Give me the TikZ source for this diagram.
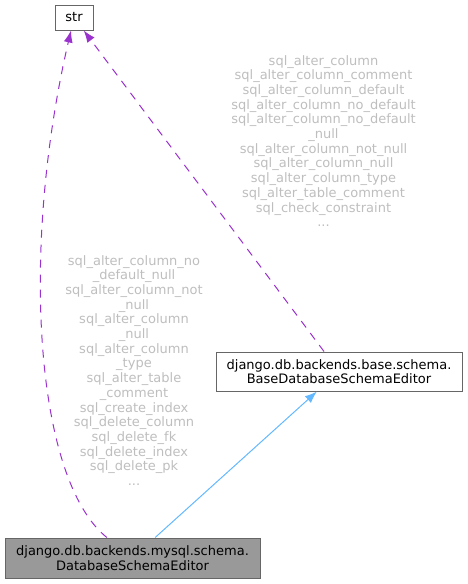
\documentclass[tikz,border=0pt]{standalone}
\usepackage{fontspec}
\setmainfont{DejaVu Sans}
\usetikzlibrary{arrows.meta,positioning,calc}
\definecolor{dxUse}{HTML}{9A32CD}
\definecolor{dxInh}{HTML}{63B8FF}
\definecolor{dxBox}{HTML}{666666}
\definecolor{dxFill}{HTML}{999999}
\definecolor{dxLbl}{HTML}{BEBEBE}

\begin{document}
\begin{tikzpicture}[x=1pt, y=-1pt,
  every node/.style={font=\fontsize{13}{14.7}\selectfont},
  cls/.style={draw=dxBox, line width=1pt, inner sep=0pt, align=center},
  use/.style={dxUse, line width=1pt, dash pattern=on 8pt off 7pt, -{Latex[length=12pt,width=9pt]}},
  inh/.style={dxInh, line width=1pt, -{Latex[length=12pt,width=9pt]}},
  lbl/.style={text=dxLbl, inner sep=0pt, align=center, anchor=north}]
  \useasboundingbox (0,0) rectangle (467,584);
  % classes
  \node[cls, minimum width=38, minimum height=25] (str) at (74,17.5) {str};
  \node[cls, minimum width=246, minimum height=39] (base) at (339,371.5)
    {django.db.backends.base.schema.\\BaseDatabaseSchemaEditor};
  \node[cls, fill=dxFill, minimum width=255, minimum height=40] (mysql) at (132.5,558)
    {django.db.backends.mysql.schema.\\DatabaseSchemaEditor};
  % edges
  \draw[use] (mysql) .. controls (35,480) and (20,250) .. (str);
  \draw[use] (base) -- (str);
  \draw[inh] (mysql) -- (base);
  % member labels
  \node[lbl] (lblRight) at (323.5,55) {sql\_alter\_column\\sql\_alter\_column\_comment\\sql\_alter\_column\_default\\sql\_alter\_column\_no\_default\\sql\_alter\_column\_no\_default\\\_null\\sql\_alter\_column\_not\_null\\sql\_alter\_column\_null\\sql\_alter\_column\_type\\sql\_alter\_table\_comment\\sql\_check\_constraint\\...};
  \node[lbl] (lblLeft) at (134,255) {sql\_alter\_column\_no\\\_default\_null\\sql\_alter\_column\_not\\\_null\\sql\_alter\_column\\\_null\\sql\_alter\_column\\\_type\\sql\_alter\_table\\\_comment\\sql\_create\_index\\sql\_delete\_column\\sql\_delete\_fk\\sql\_delete\_index\\sql\_delete\_pk\\...};
\end{tikzpicture}
\end{document}
